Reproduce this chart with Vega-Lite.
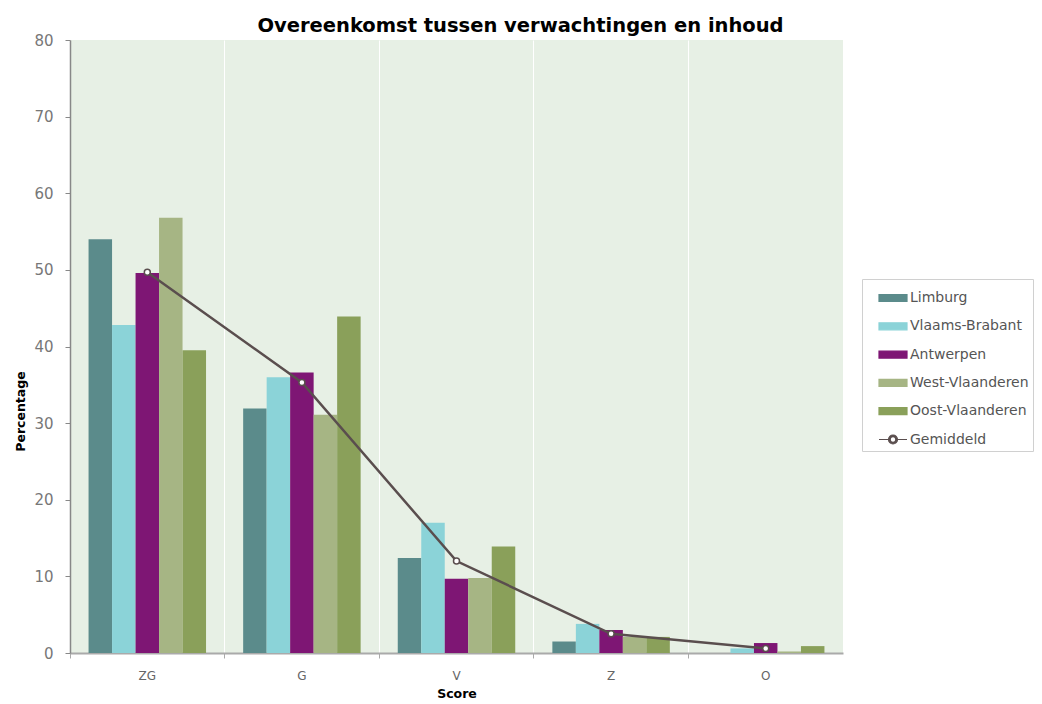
{
  "$schema": "https://vega.github.io/schema/vega-lite/v6.json",
  "width": 773,
  "height": 613,
  "autosize": "none",
  "padding": {"left": 70, "top": 40, "right": 199, "bottom": 51},
  "background": "white",
  "title": {
    "text": "Overeenkomst tussen verwachtingen en inhoud",
    "font": "DejaVu Sans",
    "fontSize": 19.5,
    "fontWeight": "bold",
    "color": "#000000",
    "anchor": "middle",
    "dx": 64,
    "offset": -3
  },
  "config": {
    "view": {"fill": "#e7f0e5", "stroke": null},
    "font": "DejaVu Sans"
  },
  "datasets": {
    "bars": [
      {"score": "ZG", "serie": "Limburg", "value": 54.0},
      {"score": "ZG", "serie": "Vlaams-Brabant", "value": 42.8},
      {"score": "ZG", "serie": "Antwerpen", "value": 49.6},
      {"score": "ZG", "serie": "West-Vlaanderen", "value": 56.8},
      {"score": "ZG", "serie": "Oost-Vlaanderen", "value": 39.5},
      {"score": "G", "serie": "Limburg", "value": 31.9},
      {"score": "G", "serie": "Vlaams-Brabant", "value": 36.0},
      {"score": "G", "serie": "Antwerpen", "value": 36.6},
      {"score": "G", "serie": "West-Vlaanderen", "value": 31.1},
      {"score": "G", "serie": "Oost-Vlaanderen", "value": 43.9},
      {"score": "V", "serie": "Limburg", "value": 12.4},
      {"score": "V", "serie": "Vlaams-Brabant", "value": 17.0},
      {"score": "V", "serie": "Antwerpen", "value": 9.7},
      {"score": "V", "serie": "West-Vlaanderen", "value": 9.8},
      {"score": "V", "serie": "Oost-Vlaanderen", "value": 13.9},
      {"score": "Z", "serie": "Limburg", "value": 1.5},
      {"score": "Z", "serie": "Vlaams-Brabant", "value": 3.8},
      {"score": "Z", "serie": "Antwerpen", "value": 3.0},
      {"score": "Z", "serie": "West-Vlaanderen", "value": 2.1},
      {"score": "Z", "serie": "Oost-Vlaanderen", "value": 2.1},
      {"score": "O", "serie": "Limburg", "value": 0.0},
      {"score": "O", "serie": "Vlaams-Brabant", "value": 0.6},
      {"score": "O", "serie": "Antwerpen", "value": 1.3},
      {"score": "O", "serie": "West-Vlaanderen", "value": 0.2},
      {"score": "O", "serie": "Oost-Vlaanderen", "value": 0.9}
    ],
    "avg": [
      {"score": "ZG", "serie": "Gemiddeld", "value": 49.7},
      {"score": "G", "serie": "Gemiddeld", "value": 35.3},
      {"score": "V", "serie": "Gemiddeld", "value": 12.0},
      {"score": "Z", "serie": "Gemiddeld", "value": 2.5},
      {"score": "O", "serie": "Gemiddeld", "value": 0.6}
    ]
  },
  "encoding": {
    "x": {
      "field": "score",
      "type": "nominal",
      "sort": ["ZG", "G", "V", "Z", "O"],
      "scale": {"paddingInner": 0, "paddingOuter": 0},
      "axis": {
        "title": "Score",
        "titleFontSize": 12.5,
        "titleFontWeight": "bold",
        "titleColor": "#000000",
        "titlePadding": 6,
        "labelAngle": 0,
        "labelColor": "#666666",
        "labelFontSize": 12,
        "labelPadding": 12,
        "bandPosition": 0,
        "domainColor": "#aaaaaa",
        "domainWidth": 2,
        "tickColor": "#aaaaaa",
        "tickSize": 5,
        "grid": true,
        "gridColor": "#ffffff",
        "gridWidth": 1
      }
    },
    "y": {
      "field": "value",
      "type": "quantitative",
      "scale": {"domain": [0, 80], "nice": false},
      "axis": {
        "title": "Percentage",
        "titleFontSize": 12.5,
        "titleFontWeight": "bold",
        "titleColor": "#000000",
        "titleX": -50,
        "titleY": 371,
        "titleAlign": "center",
        "titleAngle": 270,
        "titleBaseline": "middle",
        "values": [0, 10, 20, 30, 40, 50, 60, 70, 80],
        "labelColor": "#777777",
        "labelFontSize": 15,
        "labelPadding": 12,
        "domainColor": "#888888",
        "domainWidth": 1.5,
        "tickColor": "#888888",
        "tickSize": 5,
        "grid": false
      }
    },
    "color": {
      "field": "serie",
      "type": "nominal",
      "scale": {
        "domain": ["Limburg", "Vlaams-Brabant", "Antwerpen", "West-Vlaanderen", "Oost-Vlaanderen", "Gemiddeld"],
        "range": ["#5b8b8b", "#8bd3d8", "#7e1674", "#a6b584", "#8aa05a", "#5a4e4e"]
      },
      "legend": {
        "title": null,
        "orient": "none",
        "legendX": 792,
        "legendY": 239,
        "padding": 4,
        "strokeColor": "#d0d0d0",
        "fillColor": "#ffffff",
        "labelFont": "DejaVu Sans",
        "labelFontSize": 14,
        "labelColor": "#555555",
        "labelOffset": 2,
        "symbolSize": 784,
        "symbolOffset": 12,
        "rowPadding": 6.3,
        "encode": {
          "symbols": {
            "update": {
              "shape": [
                {"test": "datum.value === 'Gemiddeld'", "value": "M-1,0L-0.32,0M0.32,0L1,0M0.32,0A0.32,0.32 0 1,0 -0.32,0A0.32,0.32 0 1,0 0.32,0ZM0.2,0A0.2,0.2 0 1,1 -0.2,0A0.2,0.2 0 1,1 0.2,0Z"},
                {"value": "M-1,-0.25L1,-0.25L1,0.25L-1,0.25Z"}
              ],
              "fill": [
                {"test": "datum.value === 'Gemiddeld'", "value": "#5a4e4e"},
                {"scale": "color", "field": "value"}
              ],
              "stroke": [
                {"test": "datum.value === 'Gemiddeld'", "value": "#5a4e4e"},
                {"value": "transparent"}
              ],
              "strokeWidth": {"value": 1.2},
              "opacity": {"value": 1}
            }
          }
        }
      }
    }
  },
  "layer": [
    {
      "data": {"name": "bars"},
      "mark": {"type": "bar", "opacity": 1},
      "encoding": {
        "xOffset": {
          "field": "serie",
          "type": "nominal",
          "sort": ["Limburg", "Vlaams-Brabant", "Antwerpen", "West-Vlaanderen", "Oost-Vlaanderen"],
          "scale": {"paddingInner": 0, "paddingOuter": 0.79}
        }
      }
    },
    {
      "data": {"name": "avg"},
      "mark": {
        "type": "line",
        "strokeWidth": 2.5,
        "point": {"filled": false, "fill": "#ffffff", "size": 36, "strokeWidth": 1.5}
      },
      "encoding": {}
    }
  ]
}
